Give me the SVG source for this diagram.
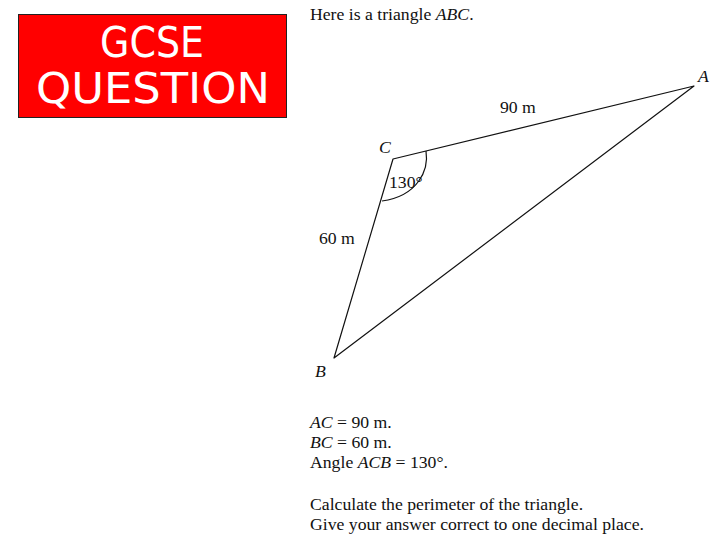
<svg xmlns="http://www.w3.org/2000/svg" width="720" height="540" viewBox="0 0 720 540">
<style>
.t{font-family:"Liberation Serif","Times New Roman",serif;font-size:17.7px;fill:#111}
.i{font-style:italic}
.ban{font-family:"DejaVu Sans","Liberation Sans",sans-serif;font-size:42px;fill:#fff;text-anchor:middle}
.ln{stroke:#111;stroke-width:1.2;fill:none;stroke-linejoin:round}
</style>
<rect width="720" height="540" fill="#fff"/>
<g id="banner">
<rect x="18.5" y="14.5" width="268" height="103" fill="#ff0000" stroke="#222" stroke-width="1"/>
<text class="ban" x="152" y="57" textLength="104" lengthAdjust="spacingAndGlyphs">GCSE</text>
<text class="ban" x="153" y="103" textLength="234" lengthAdjust="spacingAndGlyphs">QUESTION</text>
</g>
<text class="t" x="310" y="20">Here is a triangle <tspan class="i">ABC</tspan>.</text>
<g id="connectors">
<path class="ln" d="M393,159 L694,86 L334,358 Z"/>
<path class="ln" d="M426,151 C429,170 418,196 382,201"/>
</g>
<g id="vertexA"><text class="t i" x="698" y="82">A</text></g>
<g id="vertexB"><text class="t i" x="315" y="377">B</text></g>
<g id="vertexC"><text class="t i" x="379" y="153">C</text></g>
<text class="t" x="500" y="113">90 m</text>
<text class="t" x="319" y="244">60 m</text>
<text class="t" x="389" y="188">130°</text>
<g id="info">
<text class="t" x="310" y="428"><tspan class="i">AC</tspan> = 90 m.</text>
<text class="t" x="310" y="448"><tspan class="i">BC</tspan> = 60 m.</text>
<text class="t" x="310" y="468">Angle <tspan class="i">ACB</tspan> = 130°.</text>
<text class="t" x="310" y="510">Calculate the perimeter of the triangle.</text>
<text class="t" x="310" y="530">Give your answer correct to one decimal place.</text>
</g>
</svg>
